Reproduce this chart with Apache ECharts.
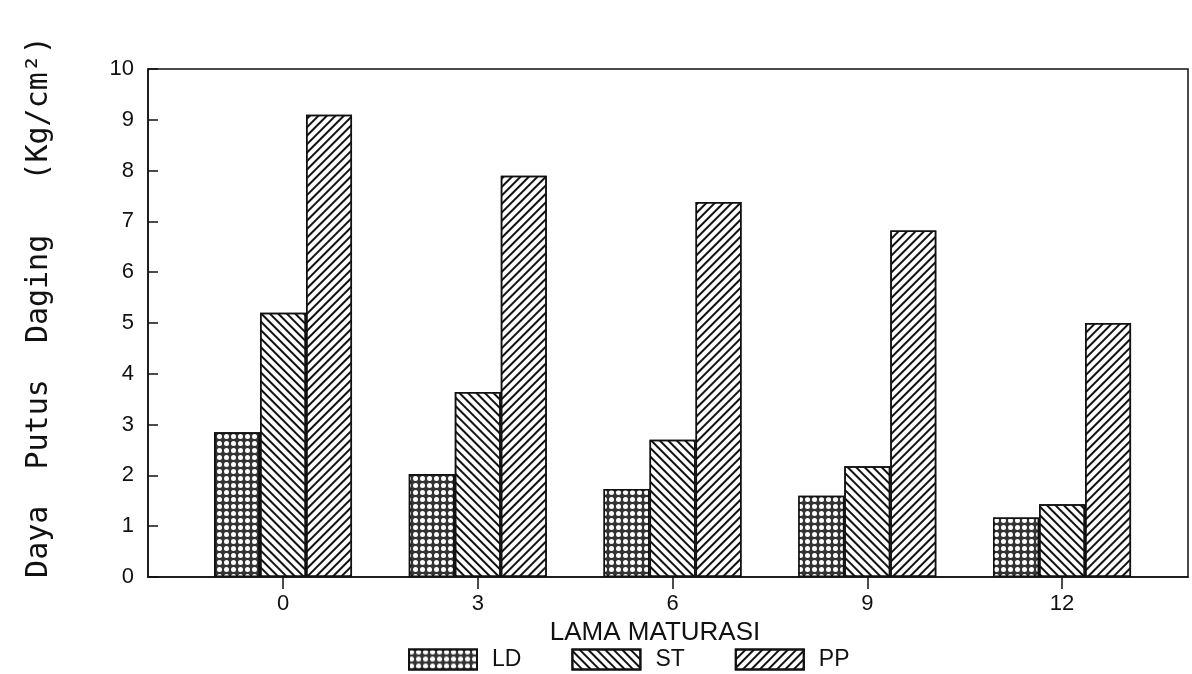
<!DOCTYPE html>
<html>
<head>
<meta charset="utf-8">
<script src="https://cdn.jsdelivr.net/npm/echarts@6/dist/echarts.min.js"></script>
<style>
html,body{margin:0;padding:0;background:#fff;}
#chart{width:1192px;height:674px;}
</style>
</head>
<body>
<div id="chart"></div>
<script>
// Data
const categories = [0, 3, 6, 9, 12];
const seriesNames = ['LD', 'ST', 'PP'];
const LD = [2.85, 2.03, 1.73, 1.6, 1.17];
const ST = [5.2, 3.64, 2.7, 2.18, 1.43];
const PP = [9.1, 7.9, 7.38, 6.82, 5.0];
const xTickValues = [0, 3, 6, 9, 12];
const yAxisTitle = 'Daya  Putus  Daging   (Kg/cm²)';
const xAxisTitle = 'LAMA MATURASI';

const pairs = vals => categories.map((c, i) => [c, vals[i]]);

const decals = {
  LD: { symbol: 'circle', symbolSize: 1, color: '#fff', dashArrayX: [5, 1.5], dashArrayY: [4.5, 1.5], rotation: 0 },
  ST: { symbol: 'rect', symbolSize: 1, color: '#111', dashArrayX: [1, 0], dashArrayY: [1.5, 3.5], rotation: Math.PI / 4 },
  PP: { symbol: 'rect', symbolSize: 1, color: '#111', dashArrayX: [1, 0], dashArrayY: [1.5, 3.5], rotation: -Math.PI / 4 }
};
const fills = { LD: '#333', ST: '#fff', PP: '#fff' };
const dataMap = { LD: LD, ST: ST, PP: PP };

const chart = echarts.init(document.getElementById('chart'), null, { renderer: 'canvas' });
chart.setOption({
  backgroundColor: '#fff',
  animation: false,
  grid: { left: 148, right: 4, top: 69, bottom: 97, show: true, borderColor: '#111', borderWidth: 1.5 },
  legend: {
    data: seriesNames,
    left: 403, top: 643,
    itemWidth: 68, itemHeight: 20, itemGap: 50,
    icon: 'rect',
    textStyle: { fontFamily: 'Liberation Sans, Arial, sans-serif', fontSize: 23, color: '#111', padding: [0, 0, 0, 10] }
  },
  xAxis: {
    type: 'value',
    min: -2.08, max: 13.94,
    name: xAxisTitle,
    nameLocation: 'middle',
    nameGap: 34,
    nameTextStyle: { fontFamily: 'Liberation Sans, Arial, sans-serif', fontSize: 26, color: '#111', padding: [0, 26, 0, 0] },
    axisLine: { show: true, onZero: false, lineStyle: { color: '#111', width: 1.5 } },
    axisTick: { show: true, customValues: xTickValues, length: 12, inside: false, lineStyle: { color: '#111', width: 1.5 } },
    axisLabel: { customValues: xTickValues, margin: 16, fontFamily: 'Liberation Sans, Arial, sans-serif', fontSize: 22, color: '#111' },
    splitLine: { show: false }
  },
  yAxis: {
    type: 'value',
    min: 0, max: 10, interval: 1,
    name: yAxisTitle,
    nameLocation: 'middle',
    nameGap: 94,
    nameRotate: 90,
    nameTextStyle: { fontFamily: 'DejaVu Sans Mono, monospace', fontSize: 30, color: '#111', padding: [0, 0, 0, 32] },
    axisLine: { show: true, onZero: false, lineStyle: { color: '#111', width: 1.5 } },
    axisTick: { show: true, inside: true, length: 10, lineStyle: { color: '#111', width: 1.5 } },
    axisLabel: { margin: 14, fontFamily: 'Liberation Sans, Arial, sans-serif', fontSize: 22, color: '#111' },
    splitLine: { show: false }
  },
  series: seriesNames.map(n => ({
    name: n,
    type: 'bar',
    data: pairs(dataMap[n]),
    barWidth: 46,
    barGap: '0%',
    itemStyle: { color: fills[n], borderColor: '#111', borderWidth: 1.5, decal: decals[n] },
    emphasis: { disabled: true }
  }))
});
</script>
</body>
</html>
